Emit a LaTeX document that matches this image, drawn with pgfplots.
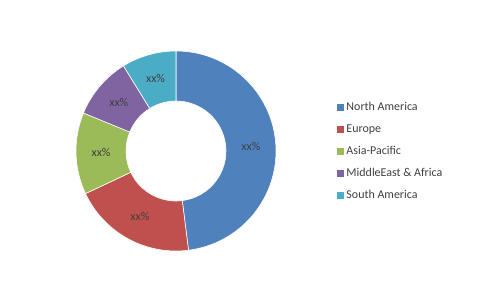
\documentclass[border=0pt]{standalone}
\usepackage{pgfplots}
\usepackage{pgfplotstable}
\pgfplotsset{compat=1.18}
\usepackage{fontspec}
\setmainfont{Carlito}
\definecolor{c1}{HTML}{4F81BD}
\definecolor{c2}{HTML}{C0504D}
\definecolor{c3}{HTML}{9BBB59}
\definecolor{c4}{HTML}{8064A2}
\definecolor{c5}{HTML}{4BACC6}
\definecolor{txt}{HTML}{404040}
\newcommand\lblfont{\fontsize{12}{14}\selectfont}
\pgfplotstableread{
value color
48.0 c1
20.0 c2
13.2 c3
10.0 c4
8.8 c5
}\shares
\begin{document}
\begin{tikzpicture}
\fill[white] (0,0) rectangle (500bp,287bp);
\path[use as bounding box] (0,0) rectangle (500bp,287bp);
\begin{axis}[
  x=1bp, y=1bp, xmin=0, xmax=500, ymin=0, ymax=287,
  hide axis, clip=false, anchor=south west, at={(0,0)},
  legend cell align=left,
  legend image code/.code={\fill[#1,draw=none] (0bp,-3.5bp) rectangle (7bp,3.5bp);},
  legend style={draw=none, fill=none, at={(axis cs:336.3,186)}, anchor=north west,
    inner sep=0pt, row sep=8.6bp, font=\lblfont,
    /tikz/every odd column/.append style={column sep=2bp},
    nodes={inner sep=1pt, text=txt, text height=8.7bp, text depth=2.7bp}},
]
\def\cum{0}
\pgfplotsforeachungrouped \i in {0,...,4}{%
  \pgfplotstablegetelem{\i}{value}\of\shares \let\v\pgfplotsretval
  \pgfplotstablegetelem{\i}{color}\of\shares \let\c\pgfplotsretval
  \pgfmathsetmacro\s{90-3.6*\cum}%
  \pgfmathsetmacro\e{90-3.6*(\cum+\v)}%
  \pgfmathsetmacro\m{(\s+\e)/2}%
  \pgfmathsetmacro\cum{\cum+\v}%
  \edef\tmp{\noexpand\fill[\c,draw=white,line width=0.6pt] (axis cs:176,136) ++(\s:100bp) arc[start angle=\s,end angle=\e,radius=100bp] -- ++(\e:-50bp) arc[start angle=\e,end angle=\s,radius=50bp] -- cycle;
  \noexpand\path (axis cs:176,136) ++(\m:75bp) node[font=\noexpand\lblfont,text=txt] {xx\noexpand\%};}%
  \tmp
}
\addlegendimage{c1}\addlegendentry{North America}
\addlegendimage{c2}\addlegendentry{Europe}
\addlegendimage{c3}\addlegendentry{Asia-Pacific}
\addlegendimage{c4}\addlegendentry{MiddleEast \& Africa}
\addlegendimage{c5}\addlegendentry{South America}
\end{axis}
\end{tikzpicture}
\end{document}
